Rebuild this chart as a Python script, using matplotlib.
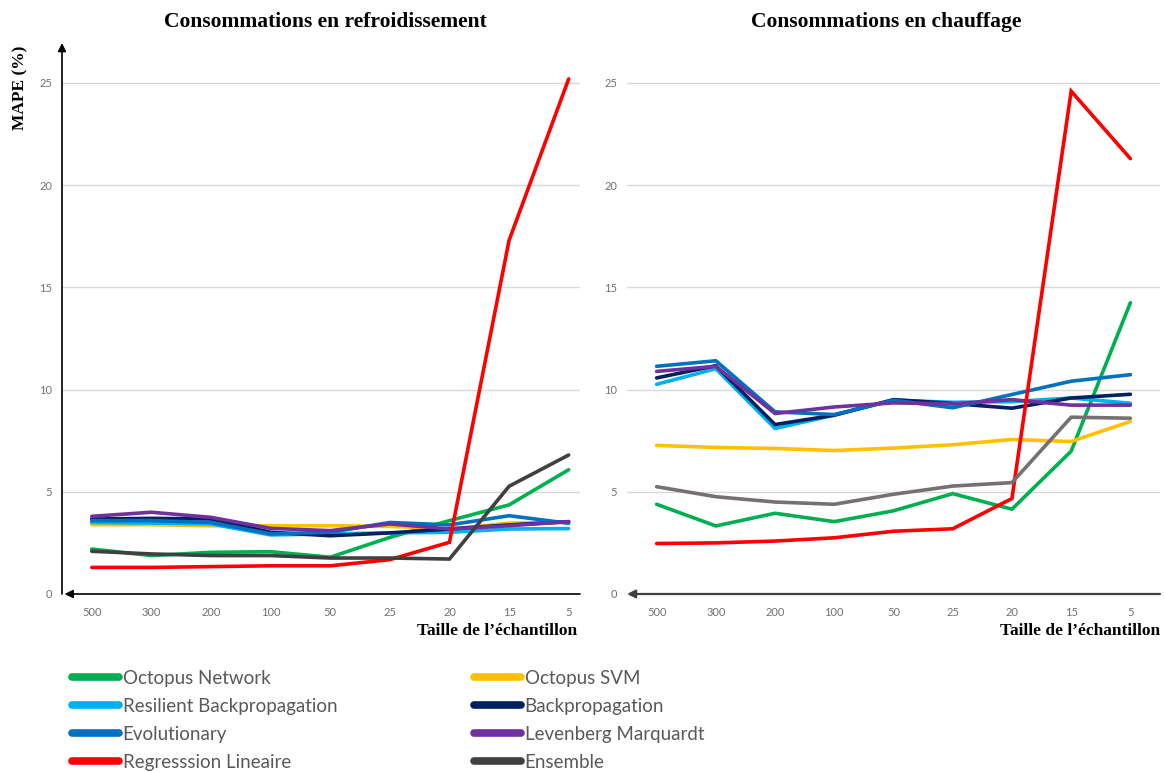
import matplotlib
matplotlib.use('Agg')
import matplotlib.pyplot as plt
from matplotlib.lines import Line2D

# ---------------- data ----------------
sizes = ['500', '300', '200', '100', '50', '25', '20', '15', '5']
series_names = ['Octopus Network', 'Octopus SVM', 'Resilient Backpropagation', 'Backpropagation',
                'Evolutionary', 'Levenberg Marquardt', 'Regresssion Lineaire', 'Ensemble']

# cooling (refroidissement)
cool_octopus_net = [2.2, 1.88, 2.04, 2.07, 1.8, 2.77, 3.59, 4.36, 6.08]
cool_octopus_svm = [3.39, 3.39, 3.34, 3.34, 3.34, 3.31, 3.18, 3.47, 3.5]
cool_resilient = [3.5, 3.47, 3.43, 2.89, 2.94, 2.99, 3.02, 3.18, 3.2]
cool_backprop = [3.67, 3.7, 3.67, 3.02, 2.85, 2.99, 3.18, 3.38, 3.54]
cool_evolutionary = [3.59, 3.59, 3.5, 2.94, 3.02, 3.5, 3.38, 3.83, 3.46]
cool_levenberg = [3.8, 4.0, 3.75, 3.21, 3.1, 3.43, 3.18, 3.34, 3.54]
cool_regression = [1.3, 1.3, 1.34, 1.38, 1.38, 1.68, 2.53, 17.3, 25.2]
cool_ensemble = [2.09, 1.96, 1.88, 1.88, 1.76, 1.76, 1.71, 5.27, 6.8]

# heating (chauffage)
heat_octopus_net = [4.39, 3.33, 3.95, 3.54, 4.07, 4.91, 4.15, 6.99, 14.25]
heat_octopus_svm = [7.27, 7.17, 7.12, 7.02, 7.14, 7.3, 7.56, 7.46, 8.44]
heat_resilient = [10.26, 11.02, 8.1, 8.75, 9.48, 9.38, 9.41, 9.59, 9.33]
heat_backprop = [10.57, 11.17, 8.29, 8.75, 9.51, 9.32, 9.09, 9.59, 9.77]
heat_evolutionary = [11.14, 11.41, 8.91, 8.78, 9.48, 9.11, 9.76, 10.41, 10.73]
heat_levenberg = [10.89, 11.14, 8.83, 9.15, 9.35, 9.3, 9.51, 9.24, 9.24]
heat_regression = [2.47, 2.5, 2.59, 2.75, 3.07, 3.19, 4.67, 24.6, 21.3]
heat_ensemble = [5.25, 4.76, 4.5, 4.39, 4.88, 5.28, 5.45, 8.65, 8.6]

cool_data = [cool_octopus_net, cool_octopus_svm, cool_resilient, cool_backprop,
             cool_evolutionary, cool_levenberg, cool_regression, cool_ensemble]
heat_data = [heat_octopus_net, heat_octopus_svm, heat_resilient, heat_backprop,
             heat_evolutionary, heat_levenberg, heat_regression, heat_ensemble]

colors = ['#00B050', '#FFC000', '#00B0F0', '#002060', '#0070C0', '#7030A0', '#FF0000', '#404040']
heat_ensemble_color = '#767171'

# ---------------- style ----------------
W, H = 1165, 772
title_font = 'Liberation Serif'
tick_font = 'Lato'
tick_color = '#595959'
grid_color = '#D9D9D9'
line_width = 2.6

fig = plt.figure(figsize=(W / 100, H / 100), dpi=100)

def px_axes(x0, x1, y_top, y_bot):
    return fig.add_axes([x0 / W, 1 - y_bot / H, (x1 - x0) / W, (y_bot - y_top) / H])

ax_left = px_axes(62, 580, 43, 594)
ax_right = px_axes(627, 1160, 43, 594)

px_per_unit = (594 - 83) / 25.0
ymax = (594 - 43) / px_per_unit

for ax, data, xmax, ens_color in [(ax_left, cool_data, 8.19, colors[-1]),
                                  (ax_right, heat_data, 8.5, heat_ensemble_color)]:
    x = range(len(sizes))
    for i, (vals, name) in enumerate(zip(data, series_names)):
        c = ens_color if i == len(data) - 1 else colors[i]
        ax.plot(x, vals, color=c, linewidth=line_width, solid_capstyle='round',
                solid_joinstyle='miter', zorder=3 + i)
    ax.set_xlim(-0.5, xmax)
    ax.set_ylim(0, ymax)
    ax.set_yticks([0, 5, 10, 15, 20, 25])
    ax.set_xticks(list(x))
    ax.set_xticklabels(sizes)
    for y in [5, 10, 15, 20, 25]:
        ax.axhline(y, color=grid_color, linewidth=1.0, zorder=1)
    for s in ax.spines.values():
        s.set_visible(False)
    ax.tick_params(axis='both', length=0, labelsize=8, labelcolor='#707070')
    ax.tick_params(axis='x', pad=9)
    ax.tick_params(axis='y', pad=7)
    for lab in ax.get_xticklabels() + ax.get_yticklabels():
        lab.set_fontfamily(tick_font)
    ax.patch.set_alpha(0)

# axis lines with arrows
ax_left.annotate('', xy=(0, 1), xytext=(0, 0), xycoords='axes fraction',
                 arrowprops=dict(arrowstyle='-|>', color='black', lw=1.2,
                                 mutation_scale=12, shrinkA=0, shrinkB=0))
ax_left.annotate('', xy=(0.005, 0), xytext=(1, 0), xycoords='axes fraction',
                 arrowprops=dict(arrowstyle='-|>', color='black', lw=1.2,
                                 mutation_scale=12, shrinkA=0, shrinkB=0))
ax_right.annotate('', xy=(0, 0), xytext=(1, 0), xycoords='axes fraction',
                  arrowprops=dict(arrowstyle='-|>', color='#404040', lw=1.6,
                                  mutation_scale=12, shrinkA=0, shrinkB=0))

# titles and labels
fig.text(325 / W, 1 - 22 / H, 'Consommations en refroidissement', ha='center', va='center',
         fontfamily=title_font, fontweight='bold', fontsize=15.5)
fig.text(886 / W, 1 - 22 / H, 'Consommations en chauffage', ha='center', va='center',
         fontfamily=title_font, fontweight='bold', fontsize=15.5)
fig.text(20 / W, 1 - 88 / H, 'MAPE (%)', ha='center', va='center', rotation=90,
         fontfamily=title_font, fontweight='bold', fontsize=12.5)
fig.text(577 / W, 1 - 631 / H, 'Taille de l\u2019\u00e9chantillon', ha='right', va='center',
         fontfamily=title_font, fontweight='bold', fontsize=12.5)
fig.text(1160 / W, 1 - 631 / H, 'Taille de l\u2019\u00e9chantillon', ha='right', va='center',
         fontfamily=title_font, fontweight='bold', fontsize=12.5)

# legend (row-major order like the original -> reorder for column fill)
order = [0, 2, 4, 6, 1, 3, 5, 7]
handles = [Line2D([], [], color=colors[i], linewidth=5.5, solid_capstyle='round') for i in order]
labels = [series_names[i] for i in order]
leg = fig.legend(handles, labels, ncol=2, loc='upper left', bbox_to_anchor=(72 / W, 1 - 670 / H),
                 frameon=False, borderaxespad=0, borderpad=0, handlelength=2.5,
                 handletextpad=0.2, columnspacing=7.3, labelspacing=0.58,
                 prop={'family': tick_font, 'size': 13.5})
for t in leg.get_texts():
    t.set_color(tick_color)

fig.savefig('out.png', dpi=100)
